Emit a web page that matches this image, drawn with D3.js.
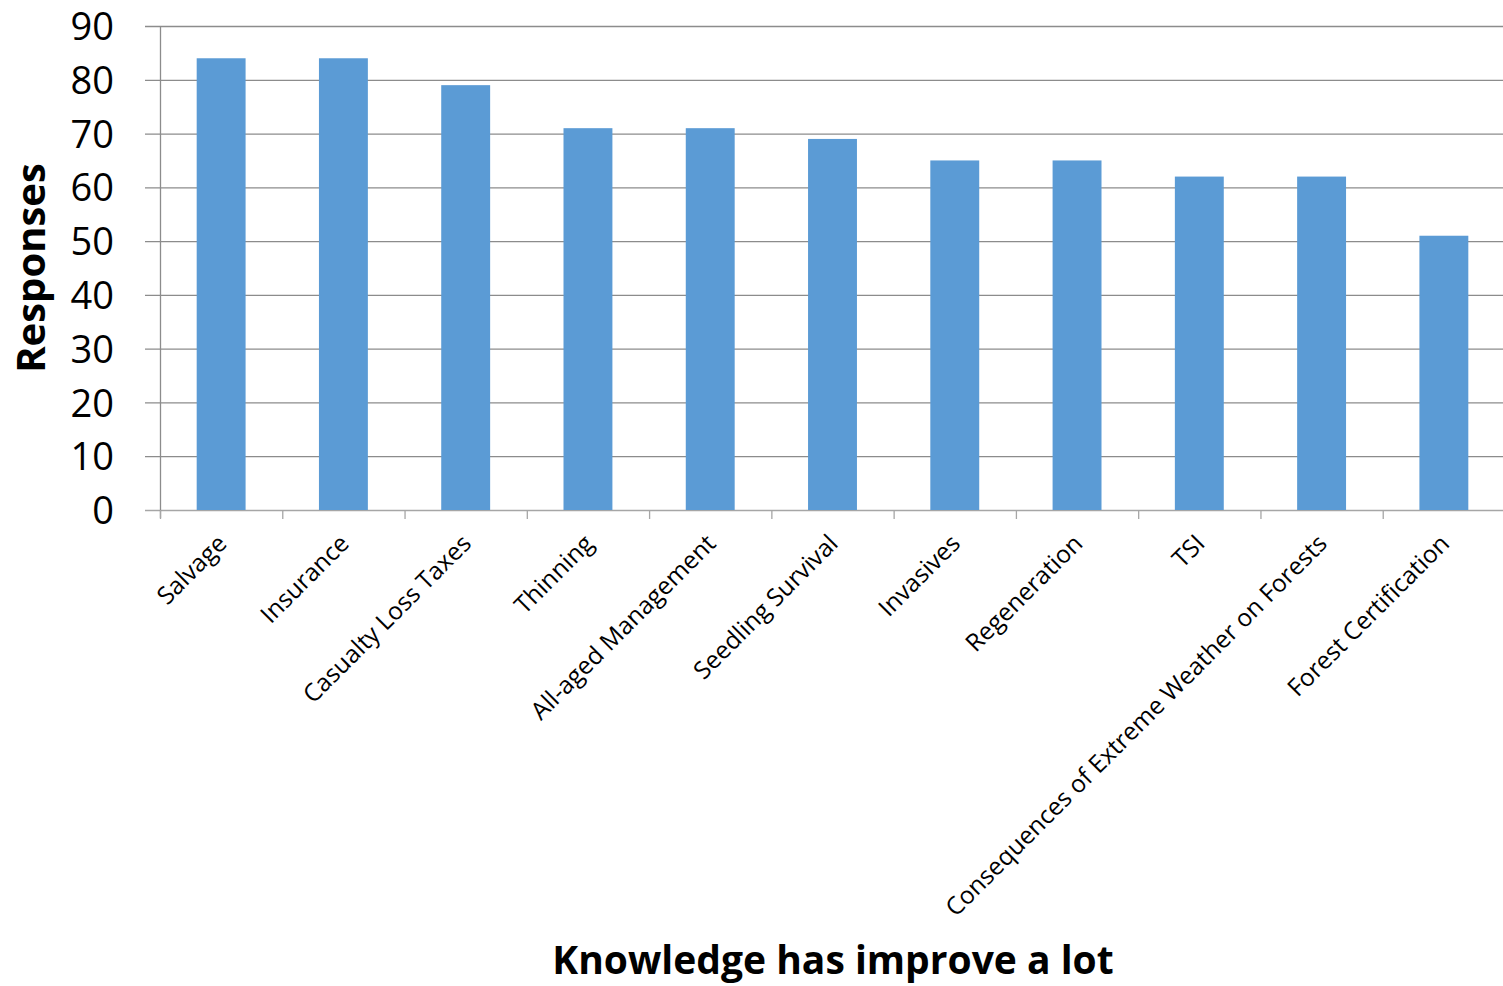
<!DOCTYPE html>
<html lang="en">
<head>
  <meta charset="UTF-8">
  <title>Knowledge has improve a lot</title>
  <style>
    html, body { margin: 0; padding: 0; background: #fff; }
    #main { width: 1503px; height: 986px; }
    text { font-family: "Open Sans", "Noto Sans", sans-serif; }
  </style>
</head>
<body>
  <div id="main"></div>
  <script src="https://d3js.org/d3.v7.min.js"></script>
  <script>
    // data
    const categories = ['Salvage', 'Insurance', 'Casualty Loss Taxes', 'Thinning', 'All-aged Management',
      'Seedling Survival', 'Invasives', 'Regeneration', 'TSI', 'Consequences of Extreme Weather on Forests',
      'Forest Certification']
    const responses = [84, 84, 79, 71, 71, 69, 65, 65, 62, 62, 51]
    const yTicks = [0, 10, 20, 30, 40, 50, 60, 70, 80, 90]

    const [width, height] = [1503, 986]
    const margin = { left: 160, right: -2, top: 26, bottom: 476 }

    const svg = d3.select('#main').append('svg')
      .attr('width', width)
      .attr('height', height)
      .attr('viewBox', `0 0 ${width} ${height}`)

    const x = d3.scaleBand()
      .domain(categories)
      .range([margin.left, width - margin.right])
      .paddingInner(0.6)
      .paddingOuter(0.3)

    const y = d3.scaleLinear()
      .domain([0, 90])
      .range([height - margin.bottom, margin.top])

    // grid lines
    svg.append('g')
      .selectAll('line')
      .data(yTicks)
      .join('line')
      .attr('x1', margin.left - 15)
      .attr('x2', width)
      .attr('y1', d => y(d) + 0.5)
      .attr('y2', d => y(d) + 0.5)
      .attr('stroke', d => d === 0 ? '#a6a6a6' : '#8c8c8c')
      .attr('stroke-width', 1.3)

    // y axis line
    svg.append('line')
      .attr('x1', margin.left + 0.5).attr('x2', margin.left + 0.5)
      .attr('y1', y(90)).attr('y2', y(0) + 8)
      .attr('stroke', '#8c8c8c')
      .attr('stroke-width', 1.3)

    // y tick labels
    svg.append('g')
      .selectAll('text')
      .data(yTicks)
      .join('text')
      .attr('x', 114)
      .attr('y', d => y(d))
      .attr('dy', '0.37em')
      .attr('text-anchor', 'end')
      .style('font-size', '38px')
      .attr('fill', '#000')
      .text(d => d)

    // bars
    svg.append('g')
      .selectAll('rect')
      .data(responses)
      .join('rect')
      .attr('x', (d, i) => x(categories[i]))
      .attr('y', d => y(d))
      .attr('width', x.bandwidth())
      .attr('height', d => y(0) - y(d))
      .attr('fill', '#5b9bd5')

    // category tick marks (between bands)
    const step = x.step()
    const bandStart = margin.left
    svg.append('g')
      .selectAll('line')
      .data(categories)
      .join('line')
      .attr('x1', (d, i) => bandStart + i * step + 0.5)
      .attr('x2', (d, i) => bandStart + i * step + 0.5)
      .attr('y1', y(0))
      .attr('y2', y(0) + 9)
      .attr('stroke', '#a6a6a6')
      .attr('stroke-width', 1.3)

    // category labels, rotated
    svg.append('g')
      .selectAll('text')
      .data(categories)
      .join('text')
      .attr('text-anchor', 'end')
      .attr('transform', d => `translate(${x(d) + x.bandwidth() / 2 + 7}, ${y(0) + 35}) rotate(-45)`)
      .style('font-size', '24.5px')
      .attr('fill', '#000')
      .text(d => d)

    // axis titles
    svg.append('text')
      .attr('transform', `translate(45, 268) rotate(-90)`)
      .attr('text-anchor', 'middle')
      .style('font-size', '40px')
      .style('font-weight', 'bold')
      .text('Responses')

    svg.append('text')
      .attr('x', 833)
      .attr('y', 974)
      .attr('text-anchor', 'middle')
      .style('font-size', '39px')
      .style('font-weight', 'bold')
      .text('Knowledge has improve a lot')
  </script>
</body>
</html>
